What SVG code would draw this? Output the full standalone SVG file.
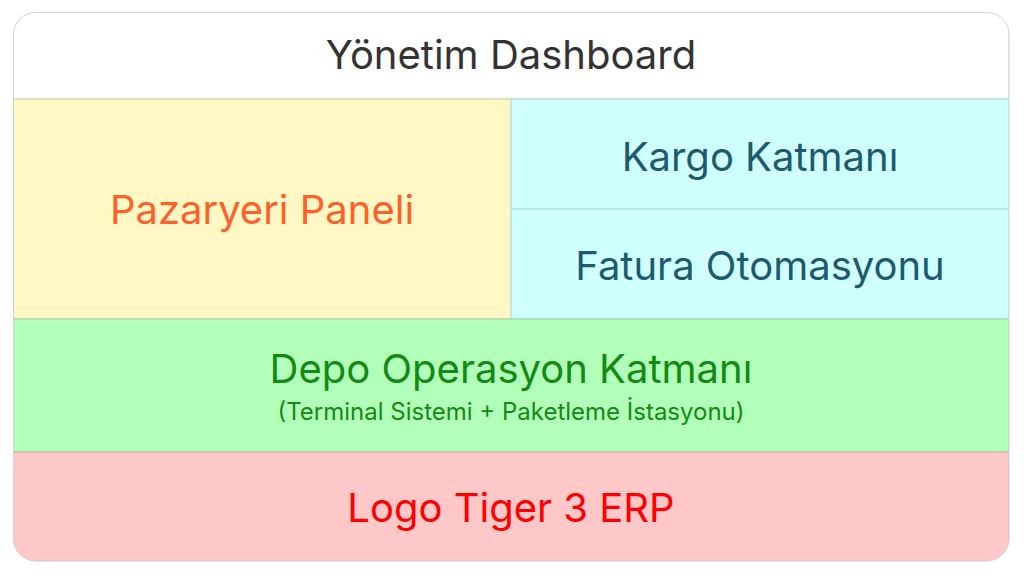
<svg xmlns="http://www.w3.org/2000/svg" width="1024" height="574" viewBox="0 0 1024 574">
<style>
text{font-family:Inter,"Noto Sans",sans-serif;text-anchor:middle}
.t{font-size:40px}
.s{font-size:24px}
</style>
<defs>
<clipPath id="c"><rect x="13.5" y="12.5" width="995.5" height="548.5" rx="22"/></clipPath>
</defs>
<rect width="1024" height="574" fill="#fff"/>
<g clip-path="url(#c)">
<g id="header"><rect x="13.5" y="12.5" width="995.5" height="86.5" fill="#fff" stroke="#d4d4d4"/>
<text class="t" x="511" y="69" fill="#333">Yönetim Dashboard</text></g>
<g id="pazaryeri"><rect x="13.5" y="99" width="497.5" height="220" fill="#fff8c4" stroke="#d8d0a0"/>
<text class="t" x="262" y="224" fill="#ff5f2a">Pazaryeri Paneli</text></g>
<g id="kargo"><rect x="511" y="99" width="498" height="110" fill="#d0ffff" stroke="#b0d8dc"/>
<text class="t" x="760" y="171" fill="#1e5a6e">Kargo Katmanı</text></g>
<g id="fatura"><rect x="511" y="209" width="498" height="110" fill="#d0ffff" stroke="#b0d8dc"/>
<text class="t" x="760" y="280" fill="#1e5a6e">Fatura Otomasyonu</text></g>
<g id="depo"><rect x="13.5" y="319" width="995.5" height="133" fill="#b2ffba" stroke="#98d8a0"/>
<text class="t" x="511" y="383" fill="#138a13">Depo Operasyon Katmanı</text>
<text class="s" x="511" y="420" fill="#138a13">(Terminal Sistemi + Paketleme İstasyonu)</text></g>
<g id="erp"><rect x="13.5" y="452" width="995.5" height="109" fill="#ffc8c8" stroke="#d8a8a8"/>
<text class="t" x="511" y="522" fill="#ff0000">Logo Tiger 3 ERP</text></g>
</g>
<g id="connectors"></g>
<rect x="13.5" y="12.5" width="995.5" height="548.5" rx="22" fill="none" stroke="#d4d4d4"/>
</svg>
